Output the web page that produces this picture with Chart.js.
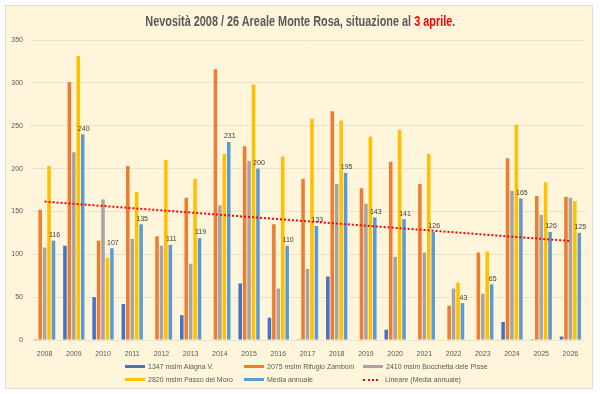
<!DOCTYPE html>
<html>
<head>
<meta charset="utf-8">
<script src="https://cdn.jsdelivr.net/npm/chart.js@4.4.1/dist/chart.umd.min.js"></script>
<style>
  body { margin: 0; background: #fff; }
  #wrap { position: relative; width: 600px; height: 394px; overflow: hidden; }
  #box { position: absolute; left: 5px; top: 5px; width: 586px; height: 382px; background: #fff5da; border: 1px solid #e3ded2; }
  #chart { position: absolute; left: 0; top: 0; }
  #title { position: absolute; top: 12px; left: 0; width: 600px; text-align: center; }
  #title .t { display: inline-block; white-space: nowrap; font: bold 14px "Liberation Sans", sans-serif; color: #595959; transform-origin: 50% 50%; }
  #title .r { color: #ff0000; }
  #legend { position: absolute; left: 125px; top: 360px; display: grid; grid-template-columns: 119px 119px auto; grid-auto-rows: 13px; font: 7px "Liberation Sans", sans-serif; color: #595959; }
  #legend .item { display: flex; align-items: center; white-space: nowrap; }
  #legend .sw { display: inline-block; width: 20px; height: 3px; margin-right: 3px; }
  #legend .dot { display: inline-block; width: 15px; height: 0; border-top: 2px dotted #ff0000; margin-right: 7px; }
</style>
</head>
<body>
<div id="wrap">
  <div id="box"></div>
  <canvas id="chart" width="600" height="394"></canvas>
  <div id="title"><span class="t">Nevosità 2008 / 26 Areale Monte Rosa, situazione al <span class="r">3 aprile</span>.</span></div>
  <div id="legend"></div>
</div>
<script>
const years = ["2008","2009","2010","2011","2012","2013","2014","2015","2016","2017","2018","2019","2020","2021","2022","2023","2024","2025","2026"];
const alagna   = [1, 110, 50, 42, 0, 29, 0, 66, 26, 1, 74, 0, 12, 0, 0, 0, 21, 1, 4];
const zamboni  = [152, 301, 116, 203, 121, 166, 316, 226, 135, 188, 267, 177, 208, 182, 40, 102, 212, 168, 167];
const bocchetta = [108, 219, 164, 118, 110, 89, 157, 209, 60, 83, 182, 159, 97, 102, 60, 54, 174, 146, 166];
const moro     = [203, 331, 96, 173, 210, 188, 217, 298, 214, 258, 256, 237, 245, 217, 67, 103, 251, 184, 162];
const media    = [116, 240, 107, 135, 111, 119, 231, 200, 110, 133, 195, 143, 141, 126, 43, 65, 165, 126, 125];
const yTicks = [0, 50, 100, 150, 200, 250, 300, 350];

// linear trend of the yearly mean (least squares, like Excel's "Lineare")
const n = media.length;
const xm = (n - 1) / 2;
const ym = media.reduce((a, b) => a + b, 0) / n;
let sxy = 0, sxx = 0;
media.forEach((v, i) => { sxy += (i - xm) * (v - ym); sxx += (i - xm) * (i - xm); });
const slope = sxy / sxx;
const trend = media.map((v, i) => ym + slope * (i - xm));

const barSet = (label, data, color) => ({
  type: "bar", label, data, backgroundColor: color, order: 1,
  categoryPercentage: 0.76, barPercentage: 0.8
});

const datasets = [
  barSet("1347 mslm Alagna V.", alagna, "#4472c4"),
  barSet("2075 mslm Rifugio Zamboni", zamboni, "#ed7d31"),
  barSet("2410 mslm Bocchetta dele Pisse", bocchetta, "#a5a5a5"),
  barSet("2820 mslm Passo del Moro", moro, "#ffc000"),
  barSet("Media annuale", media, "#5b9bd5"),
  { type: "line", label: "Lineare (Media annuale)", data: trend, borderColor: "#ff0000",
    borderWidth: 2, borderDash: [2, 2], pointRadius: 0, fill: false, order: 0 }
];

// value labels over the "Media annuale" bars
const mediaLabels = {
  id: "mediaLabels",
  afterDatasetsDraw(chart) {
    const ctx = chart.ctx;
    const meta = chart.getDatasetMeta(4);
    ctx.save();
    ctx.font = "7px 'Liberation Sans', sans-serif";
    ctx.fillStyle = "#404040";
    ctx.textAlign = "center";
    ctx.textBaseline = "bottom";
    meta.data.forEach((bar, i) => {
      ctx.fillText(media[i], bar.x + 1, bar.y - 2);
    });
    ctx.restore();
  }
};

new Chart(document.getElementById("chart"), {
  data: { labels: years, datasets },
  options: {
    responsive: false,
    animation: false,
    layout: { padding: { left: 0, right: 15, top: 40, bottom: 34 } },
    plugins: { legend: { display: false }, title: { display: false }, tooltip: { enabled: false } },
    scales: {
      x: {
        grid: { display: false },
        border: { display: false },
        ticks: { color: "#595959", font: { size: 7, family: "'Liberation Sans', sans-serif" }, padding: 2, maxRotation: 0 },
        afterFit(s) { s.height = 20; }
      },
      y: {
        min: 0, max: 350,
        afterBuildTicks(s) { s.ticks = yTicks.map(v => ({ value: v })); },
        grid: { color: "#e9e1cd", lineWidth: 1, drawTicks: false },
        border: { display: false },
        ticks: { color: "#595959", font: { size: 7, family: "'Liberation Sans', sans-serif" }, padding: 7 },
        afterFit(s) { s.width = 30; }
      }
    }
  },
  plugins: [mediaLabels]
});

// squeeze the title to the narrow width of the original
const t = document.querySelector("#title .t");
t.style.transform = "scaleX(" + (310 / t.getBoundingClientRect().width) + ")";

// legend in three columns, two rows
const legend = document.getElementById("legend");
datasets.forEach(d => {
  const item = document.createElement("div");
  item.className = "item";
  const sw = document.createElement("span");
  if (d.type === "line") {
    sw.className = "dot";
  } else {
    sw.className = "sw";
    sw.style.background = d.backgroundColor;
  }
  item.appendChild(sw);
  item.appendChild(document.createTextNode(d.label));
  legend.appendChild(item);
});
</script>
</body>
</html>
